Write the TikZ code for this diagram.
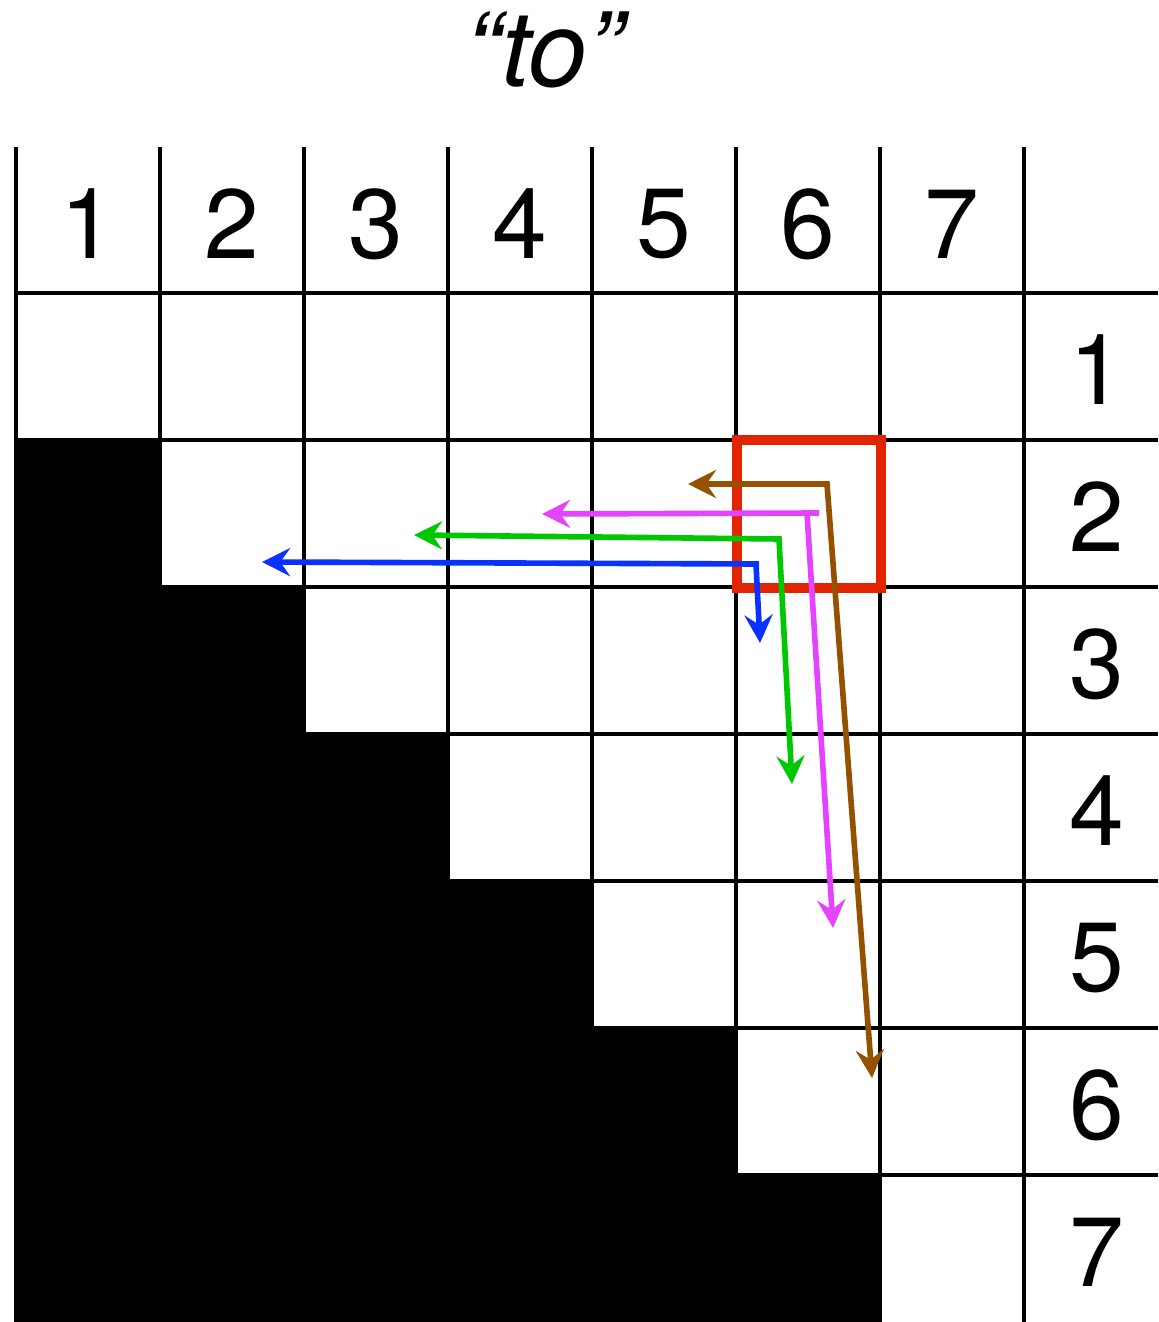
\documentclass[tikz,border=0pt]{standalone}
\usepackage{fontspec}
\setmainfont{TeX Gyre Heros}
\usepackage{tikz}
\usetikzlibrary{arrows.meta}
\usepackage{xcolor}
\definecolor{qRed}{HTML}{E32400}
\definecolor{kBrown}{HTML}{945200}
\definecolor{kMagenta}{HTML}{E444FF}
\definecolor{kGreen}{HTML}{00C800}
\definecolor{kBlue}{HTML}{0A32FF}

\begin{document}
\begin{tikzpicture}[
    x=0.01cm, y=-0.01cm,
    gridline/.style={line width=1.3pt},
    numlbl/.style={font=\fontsize{28}{30}\selectfont, inner sep=0pt},
    attn/.style={line width=1.6pt, {Stealth[length=8pt, width=8pt, inset=2.8pt]}-{Stealth[length=8pt, width=8pt, inset=2.8pt]}},
    attnone/.style={line width=1.6pt, -{Stealth[length=8pt, width=8pt, inset=2.8pt]}},
]
    \useasboundingbox (0,0) rectangle (1158,1322);
    \node[font=\fontsize{30}{32}\selectfont\itshape] (title) at (544,50) {“to”};

    % masked (future) positions
    \fill[black] (16,440) -- (160,440) -- (160,587) -- (304,587) -- (304,734)
        -- (448,734) -- (448,881) -- (592,881) -- (592,1028) -- (736,1028)
        -- (736,1175) -- (880,1175) -- (880,1322) -- (16,1322) -- cycle;

    % grid
    \foreach \i in {0,...,7}
        \draw[gridline] ({16+144*\i},147) -- ({16+144*\i},1322);
    \foreach \j in {0,...,6}
        \draw[gridline] (16,{293+147*\j}) -- (1158,{293+147*\j});

    \foreach \i in {1,...,7} {
        \node[numlbl] (c\i) at ({144*\i-56},224) {\i};
        \node[numlbl] (r\i) at (1097,{147*\i+223}) {\i};
    }

    % query cell
    \draw[qRed, line width=2.85pt] (737,440) rectangle (881,588);

    \coordinate (brL) at (688,484);
    \coordinate (brC) at (827,484);
    \coordinate (brD) at (872,1078);
    \coordinate (mgS) at (819,513);
    \coordinate (mgL) at (542,514);
    \coordinate (mgC) at (807,513);
    \coordinate (mgD) at (833,928);
    \coordinate (gnL) at (414,535);
    \coordinate (gnC) at (779,539);
    \coordinate (gnD) at (792,784);
    \coordinate (blS) at (759,564);
    \coordinate (blL) at (262,562);
    \coordinate (blC) at (756,564);
    \coordinate (blD) at (760,643);

    \draw[attn, kBrown] (brL) -- (brC) -- (brD);
    \draw[attnone, kMagenta] (mgS) -- (mgL);
    \draw[attnone, kMagenta] (mgC) -- (mgD);
    \draw[attn, kGreen] (gnL) -- (gnC) -- (gnD);
    \draw[attnone, kBlue] (blS) -- (blL);
    \draw[attnone, kBlue] (blC) -- (blD);
\end{tikzpicture}
\end{document}
